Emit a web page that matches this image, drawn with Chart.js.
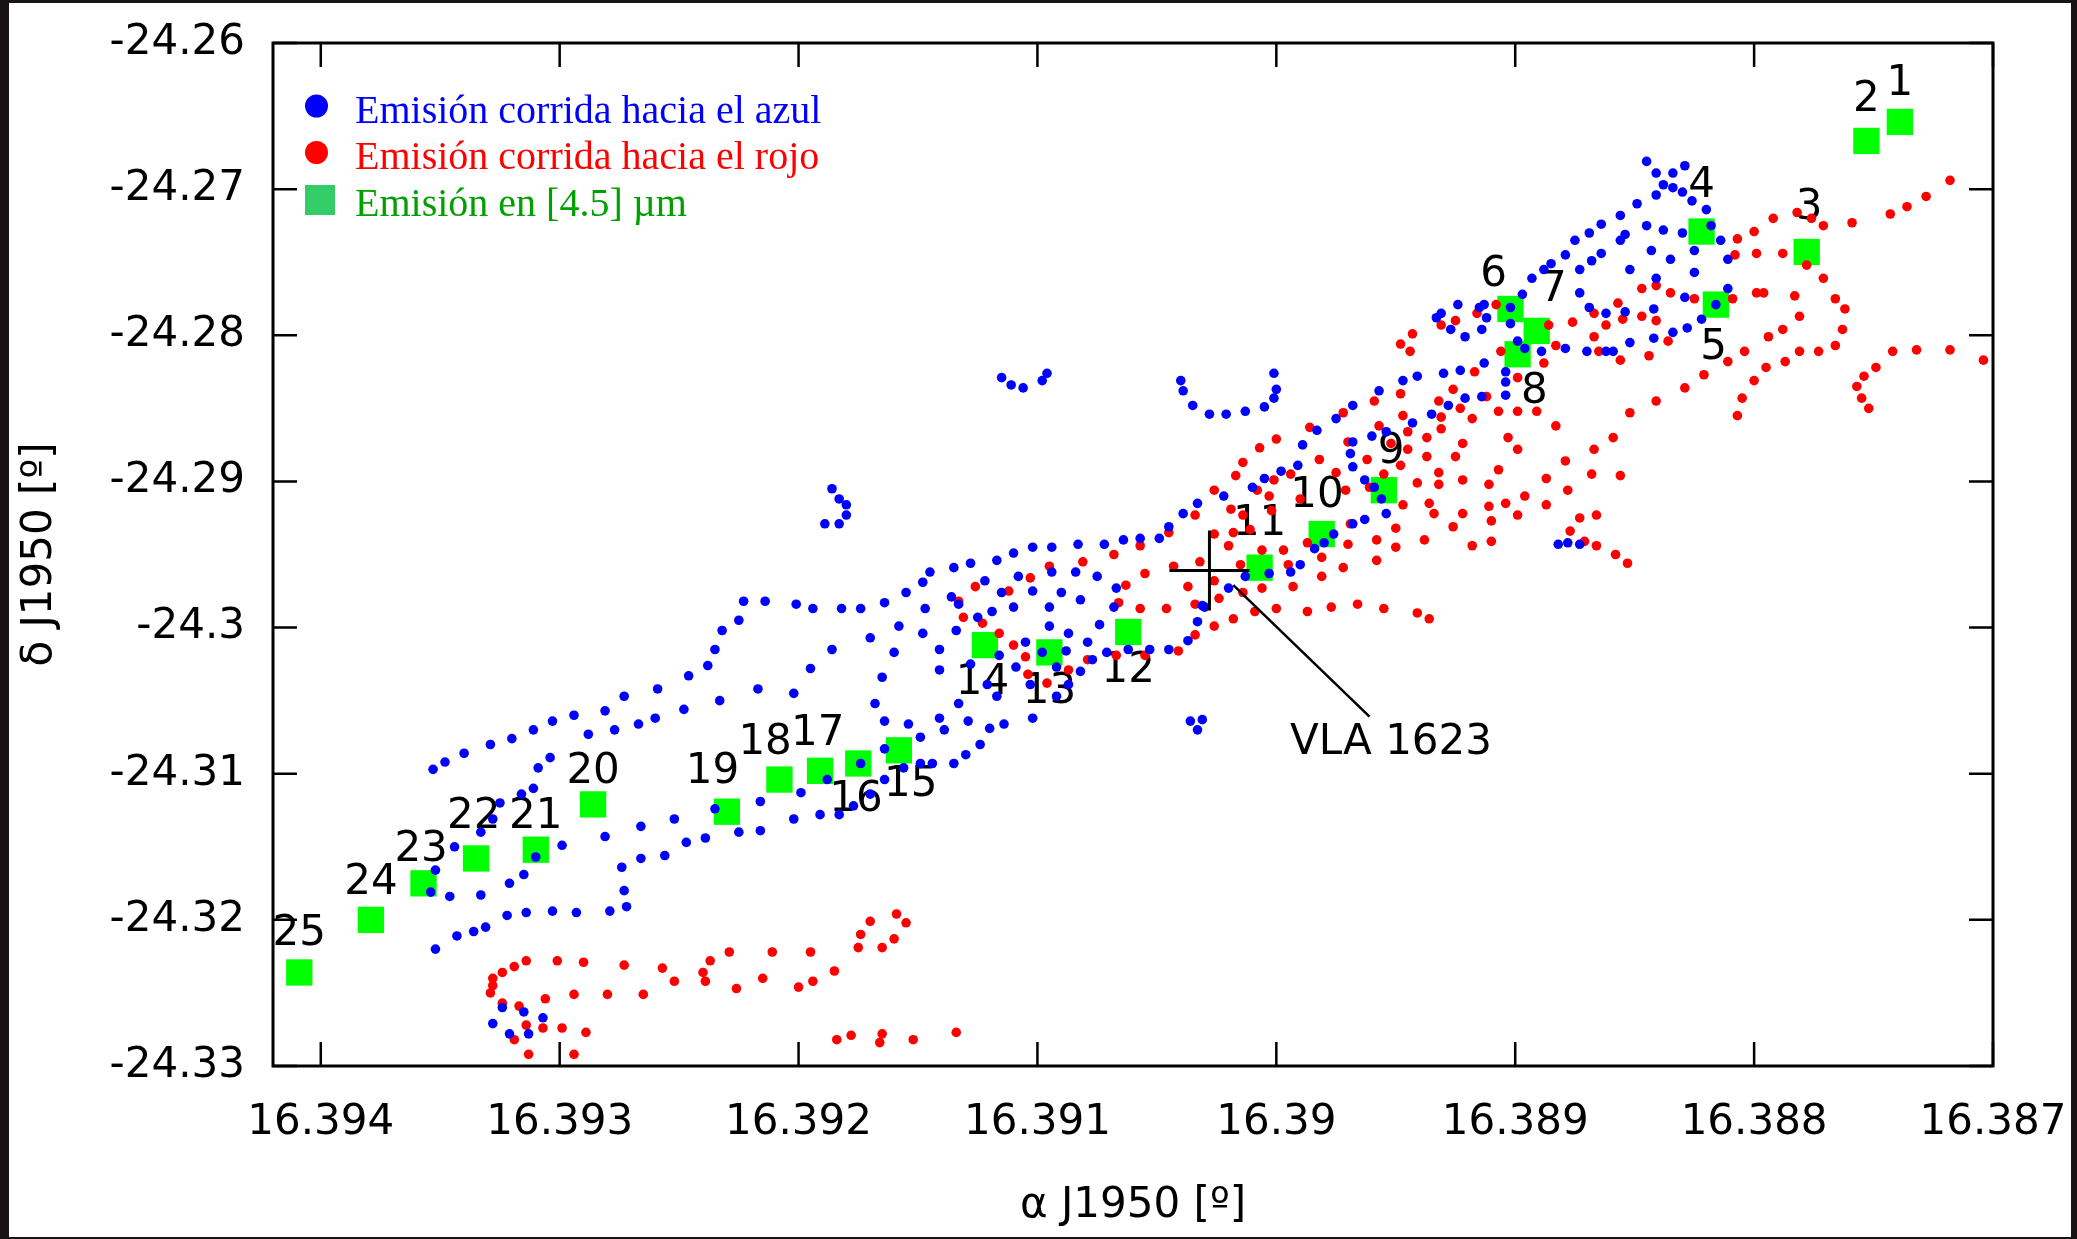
<!DOCTYPE html>
<html>
<head>
<meta charset="utf-8">
<script src="https://cdn.jsdelivr.net/npm/chart.js@4.4.1/dist/chart.umd.min.js"></script>
<style>
  html, body { margin: 0; padding: 0; background: #171214; }
  canvas { display: block; }
</style>
</head>
<body>
<canvas id="chart" width="2077" height="1239"></canvas>
<script>
// ejes (grados, J1950)
const xTicks = [16.394, 16.393, 16.392, 16.391, 16.39, 16.389, 16.388, 16.387];
const yTicks = [-24.26, -24.27, -24.28, -24.29, -24.3, -24.31, -24.32, -24.33];

// emisión corrida hacia el azul [ra, dec]
const blueShifted = [
  [16.38845,-24.2681],[16.38841,-24.2689],[16.38834,-24.2689],[16.38829,-24.2684],[16.38838,-24.2697],
  [16.38834,-24.2699],[16.38830,-24.2702],[16.38841,-24.2704],[16.38826,-24.2708],[16.38820,-24.2714],
  [16.38849,-24.2710],[16.38856,-24.2718],[16.38864,-24.2724],[16.38869,-24.2730],[16.38875,-24.2735],
  [16.38879,-24.2745],[16.38885,-24.2751],[16.38888,-24.2755],[16.38893,-24.2761],[16.38897,-24.2772],
  [16.38913,-24.2779],[16.38915,-24.2781],[16.38924,-24.2779],[16.38912,-24.2788],[16.38914,-24.2796],
  [16.38927,-24.2796],[16.38921,-24.2801],[16.38902,-24.2781],[16.38902,-24.2792],[16.38899,-24.2804],
  [16.38896,-24.2809],[16.38889,-24.2811],[16.38879,-24.2809],[16.38870,-24.2811],[16.38862,-24.2811],
  [16.38859,-24.2811],[16.38852,-24.2805],[16.38842,-24.2802],[16.38834,-24.2798],[16.38828,-24.2795],
  [16.38822,-24.2789],[16.38811,-24.2768],[16.38816,-24.2779],[16.38829,-24.2774],[16.38842,-24.2782],
  [16.38854,-24.2784],[16.38862,-24.2785],[16.38869,-24.2781],[16.38873,-24.2771],[16.38873,-24.2755],
  [16.38868,-24.2749],[16.38864,-24.2744],[16.38856,-24.2735],[16.38854,-24.2731],[16.38845,-24.2725],
  [16.38838,-24.2728],[16.38830,-24.2730],[16.38818,-24.2725],[16.38814,-24.2735],[16.38811,-24.2748],
  [16.38825,-24.2742],[16.38825,-24.2757],[16.38835,-24.2748],[16.38843,-24.2742],[16.38852,-24.2755],
  [16.38841,-24.2761],[16.38913,-24.2819],[16.38923,-24.2824],[16.38904,-24.2825],[16.38904,-24.2832],
  [16.38904,-24.2841],[16.38914,-24.2842],[16.38921,-24.2843],[16.38928,-24.2848],[16.38930,-24.2826],
  [16.38941,-24.2828],[16.38947,-24.2831],[16.38957,-24.2838],[16.38968,-24.2848],[16.38975,-24.2857],
  [16.38983,-24.2865],[16.38989,-24.2875],[16.38991,-24.2889],[16.38998,-24.2893],[16.39005,-24.2898],
  [16.39010,-24.2904],[16.39022,-24.2910],[16.39033,-24.2915],[16.39039,-24.2922],[16.39045,-24.2931],
  [16.39049,-24.2939],[16.38935,-24.2854],[16.38943,-24.2860],[16.38954,-24.2866],[16.38960,-24.2869],
  [16.38968,-24.2873],[16.38969,-24.2881],[16.38968,-24.2890],[16.38963,-24.2899],[16.38959,-24.2904],
  [16.38956,-24.2912],[16.38954,-24.2922],[16.38963,-24.2926],[16.38968,-24.2929],[16.38976,-24.2936],
  [16.38980,-24.2942],[16.38984,-24.2946],[16.38990,-24.2957],[16.38994,-24.2962],[16.39003,-24.2963],
  [16.39013,-24.2965],[16.39020,-24.2973],[16.39031,-24.2985],[16.38882,-24.2943],[16.38878,-24.2942],
  [16.38873,-24.2943],[16.39040,-24.2831],[16.39039,-24.2838],[16.39035,-24.2848],[16.39028,-24.2854],
  [16.39021,-24.2854],[16.39013,-24.2852],[16.39005,-24.2849],[16.39001,-24.2843],[16.39000,-24.2837],
  [16.39001,-24.2826],[16.39115,-24.2829],[16.39111,-24.2834],[16.39106,-24.2836],[16.39098,-24.2831],
  [16.39096,-24.2826],[16.39186,-24.2905],[16.39183,-24.2912],[16.39180,-24.2916],[16.39180,-24.2923],
  [16.39183,-24.2929],[16.39189,-24.2929],[16.39057,-24.2939],[16.39064,-24.2940],[16.39072,-24.2943],
  [16.39083,-24.2943],[16.39094,-24.2945],[16.39102,-24.2945],[16.39110,-24.2949],[16.39117,-24.2954],
  [16.39128,-24.2956],[16.39135,-24.2959],[16.39145,-24.2962],[16.39148,-24.2969],[16.39155,-24.2976],
  [16.39164,-24.2983],[16.39122,-24.2968],[16.39115,-24.2976],[16.39108,-24.2965],[16.39102,-24.2975],
  [16.39094,-24.2962],[16.39084,-24.2962],[16.39075,-24.2965],[16.39067,-24.2973],[16.39068,-24.2986],
  [16.39074,-24.2998],[16.39082,-24.2981],[16.39090,-24.2976],[16.39095,-24.2986],[16.39110,-24.2986],
  [16.39119,-24.2989],[16.39125,-24.2993],[16.39136,-24.2979],[16.39133,-24.2984],[16.39147,-24.2987],
  [16.39158,-24.2999],[16.39148,-24.3004],[16.39134,-24.3002],[16.39141,-24.3015],[16.39160,-24.3017],
  [16.39165,-24.3034],[16.39141,-24.3029],[16.39128,-24.3025],[16.39116,-24.3019],[16.39109,-24.3027],
  [16.39105,-24.3010],[16.39095,-24.2999],[16.39087,-24.3004],[16.39079,-24.3010],[16.39088,-24.3016],
  [16.39098,-24.3017],[16.39092,-24.3027],[16.39082,-24.3030],[16.39077,-24.3022],[16.39071,-24.3017],
  [16.39062,-24.3015],[16.39053,-24.3015],[16.39045,-24.3015],[16.39037,-24.3009],[16.39033,-24.2996],
  [16.39030,-24.2986],[16.39117,-24.3047],[16.39121,-24.3039],[16.39133,-24.3052],[16.39141,-24.3062],
  [16.39139,-24.3070],[16.39129,-24.3064],[16.39120,-24.3069],[16.39114,-24.3066],[16.39102,-24.3062],
  [16.39103,-24.3039],[16.39092,-24.3047],[16.39087,-24.3039],[16.39149,-24.3075],[16.39154,-24.3066],
  [16.39164,-24.3064],[16.39164,-24.3083],[16.39156,-24.3096],[16.39149,-24.3093],[16.39144,-24.3093],
  [16.39135,-24.3093],[16.39130,-24.3087],[16.39124,-24.3080],[16.39164,-24.3104],[16.39036,-24.3064],
  [16.39031,-24.3063],[16.39033,-24.3070],[16.39223,-24.2982],[16.39214,-24.2982],[16.39201,-24.2984],
  [16.39194,-24.2987],[16.39182,-24.2987],[16.39174,-24.2987],[16.39225,-24.2995],[16.39232,-24.3002],
  [16.39235,-24.3015],[16.39238,-24.3026],[16.39246,-24.3033],[16.39259,-24.3042],[16.39273,-24.3047],
  [16.39281,-24.3057],[16.39294,-24.3060],[16.39303,-24.3064],[16.39311,-24.3070],[16.39320,-24.3076],
  [16.39329,-24.3080],[16.39340,-24.3086],[16.39348,-24.3092],[16.39353,-24.3097],[16.39186,-24.3015],
  [16.39195,-24.3028],[16.39202,-24.3045],[16.39217,-24.3042],[16.39233,-24.3050],[16.39248,-24.3056],
  [16.39260,-24.3062],[16.39267,-24.3066],[16.39277,-24.3070],[16.39288,-24.3073],[16.39170,-24.3007],
  [16.39168,-24.3052],[16.39170,-24.3114],[16.39174,-24.3093],[16.39177,-24.3122],[16.39183,-24.3128],
  [16.39191,-24.3128],[16.39202,-24.3131],[16.39188,-24.3104],[16.39199,-24.3113],[16.39216,-24.3119],
  [16.39216,-24.3139],[16.39225,-24.3140],[16.39239,-24.3144],[16.39247,-24.3147],[16.39256,-24.3156],
  [16.39266,-24.3158],[16.39274,-24.3164],[16.39273,-24.3180],[16.39235,-24.3124],[16.39252,-24.3131],
  [16.39266,-24.3136],[16.39281,-24.3143],[16.39299,-24.3149],[16.39304,-24.3089],[16.39309,-24.3096],
  [16.39311,-24.3110],[16.39316,-24.3114],[16.39325,-24.3120],[16.39328,-24.3131],[16.39333,-24.3140],
  [16.39344,-24.3150],[16.39352,-24.3166],[16.39354,-24.3181],[16.39346,-24.3184],[16.39333,-24.3183],
  [16.39321,-24.3175],[16.39315,-24.3169],[16.39310,-24.3157],[16.39272,-24.3191],[16.39279,-24.3194],
  [16.39293,-24.3195],[16.39303,-24.3194],[16.39314,-24.3195],[16.39322,-24.3197],[16.39331,-24.3205],
  [16.39336,-24.3208],[16.39343,-24.3211],[16.39352,-24.3220],[16.39324,-24.3260],[16.39315,-24.3263],
  [16.39307,-24.3267],[16.39328,-24.3271],[16.39321,-24.3278],[16.39313,-24.3278],[16.38931,-24.2785],
  [16.38933,-24.2788]
];

// emisión corrida hacia el rojo [ra, dec]
const redShifted = [
  [16.38718,-24.2694],[16.38728,-24.2705],[16.38736,-24.2712],[16.38743,-24.2717],[16.38759,-24.2723],
  [16.38771,-24.2725],[16.38776,-24.2720],[16.38782,-24.2716],[16.38792,-24.2720],[16.38800,-24.2729],
  [16.38807,-24.2734],[16.38808,-24.2745],[16.38799,-24.2744],[16.38788,-24.2744],[16.38778,-24.2752],
  [16.38771,-24.2761],[16.38766,-24.2775],[16.38762,-24.2782],[16.38763,-24.2796],[16.38766,-24.2807],
  [16.38773,-24.2811],[16.38781,-24.2811],[16.38787,-24.2818],[16.38795,-24.2822],[16.38800,-24.2831],
  [16.38805,-24.2843],[16.38807,-24.2855],[16.38781,-24.2787],[16.38788,-24.2796],[16.38794,-24.2801],
  [16.38783,-24.2773],[16.38796,-24.2771],[16.38799,-24.2771],[16.38809,-24.2775],[16.38825,-24.2775],
  [16.38835,-24.2771],[16.38841,-24.2766],[16.38847,-24.2768],[16.38857,-24.2778],[16.38867,-24.2785],
  [16.38862,-24.2793],[16.38855,-24.2789],[16.38847,-24.2787],[16.38841,-24.2790],[16.38876,-24.2791],
  [16.38867,-24.2801],[16.38865,-24.2811],[16.38856,-24.2817],[16.38844,-24.2814],[16.38836,-24.2804],
  [16.38804,-24.2811],[16.38811,-24.2818],[16.38821,-24.2827],[16.38829,-24.2836],[16.38841,-24.2845],
  [16.38852,-24.2853],[16.38859,-24.2870],[16.38867,-24.2878],[16.38883,-24.2807],[16.38888,-24.2819],
  [16.38886,-24.2793],[16.38883,-24.2862],[16.38891,-24.2852],[16.38899,-24.2852],[16.38899,-24.2829],
  [16.38907,-24.2852],[16.38903,-24.2870],[16.38899,-24.2878],[16.38906,-24.2811],[16.38908,-24.2779],
  [16.38916,-24.2785],[16.38925,-24.2790],[16.38917,-24.2825],[16.38926,-24.2837],[16.38923,-24.2850],
  [16.38912,-24.2842],[16.38918,-24.2857],[16.38922,-24.2874],[16.38925,-24.2883],[16.38742,-24.2811],
  [16.38732,-24.2810],[16.38718,-24.2810],[16.38749,-24.2822],[16.38754,-24.2828],[16.38757,-24.2835],
  [16.38755,-24.2843],[16.38752,-24.2850],[16.38879,-24.2886],[16.38704,-24.2817],[16.38943,-24.2799],
  [16.38948,-24.2806],[16.38944,-24.2811],[16.38931,-24.2793],[16.38937,-24.2870],[16.38931,-24.2864],
  [16.38931,-24.2856],[16.38932,-24.2845],[16.38937,-24.2883],[16.38948,-24.2889],[16.38945,-24.2878],
  [16.38945,-24.2866],[16.38947,-24.2855],[16.38948,-24.2840],[16.38959,-24.2845],[16.38957,-24.2862],
  [16.38952,-24.2874],[16.38955,-24.2895],[16.38962,-24.2885],[16.38970,-24.2873],[16.38972,-24.2853],
  [16.38986,-24.2863],[16.39000,-24.2871],[16.39007,-24.2877],[16.39014,-24.2887],[16.39017,-24.2896],
  [16.39026,-24.2906],[16.38982,-24.2885],[16.38994,-24.2895],[16.39001,-24.2899],[16.39008,-24.2906],
  [16.39003,-24.2910],[16.38975,-24.2894],[16.38971,-24.2906],[16.38961,-24.2904],[16.38990,-24.2912],
  [16.38941,-24.2901],[16.38932,-24.2894],[16.38932,-24.2902],[16.38922,-24.2899],[16.38868,-24.2895],
  [16.38856,-24.2896],[16.38878,-24.2906],[16.38887,-24.2898],[16.38887,-24.2916],[16.38873,-24.2925],
  [16.38866,-24.2923],[16.38877,-24.2934],[16.38871,-24.2941],[16.38866,-24.2944],[16.38858,-24.2950],
  [16.38853,-24.2956],[16.38907,-24.2892],[16.38911,-24.2902],[16.38896,-24.2910],[16.38904,-24.2915],
  [16.38911,-24.2917],[16.38899,-24.2923],[16.38910,-24.2927],[16.38910,-24.2941],[16.38918,-24.2944],
  [16.38936,-24.2915],[16.38934,-24.2922],[16.38922,-24.2922],[16.38926,-24.2931],[16.38938,-24.2940],
  [16.38947,-24.2916],[16.38950,-24.2932],[16.38950,-24.2945],[16.38941,-24.2990],[16.38936,-24.2994],
  [16.39034,-24.2923],[16.39045,-24.2935],[16.39057,-24.2944],[16.39068,-24.2950],[16.39081,-24.2955],
  [16.39095,-24.2958],[16.39103,-24.2966],[16.39112,-24.2975],[16.39126,-24.2972],[16.39133,-24.2982],
  [16.39131,-24.2993],[16.39123,-24.2997],[16.39116,-24.3004],[16.39110,-24.3012],[16.39105,-24.3020],
  [16.39104,-24.3032],[16.39096,-24.3038],[16.39087,-24.3029],[16.39079,-24.3022],[16.39067,-24.3019],
  [16.39055,-24.3019],[16.39041,-24.3016],[16.39034,-24.3005],[16.39026,-24.2999],[16.39018,-24.2994],
  [16.39009,-24.2989],[16.39000,-24.2987],[16.38987,-24.2989],[16.38977,-24.2986],[16.38966,-24.2984],
  [16.38955,-24.2987],[16.39063,-24.2971],[16.39066,-24.2983],[16.39057,-24.2987],[16.39046,-24.2987],
  [16.39055,-24.2963],[16.39043,-24.2958],[16.39037,-24.2972],[16.39034,-24.2984],[16.39032,-24.2955],
  [16.39026,-24.2968],[16.39026,-24.2936],[16.39020,-24.2944],[16.39018,-24.2935],[16.39015,-24.2957],
  [16.39024,-24.2980],[16.39014,-24.2976],[16.39006,-24.2947],[16.39006,-24.2973],[16.38997,-24.2947],
  [16.38995,-24.2957],[16.38993,-24.2972],[16.39019,-24.2919],[16.39014,-24.2923],[16.39002,-24.2920],
  [16.38987,-24.2942],[16.38981,-24.2952],[16.38981,-24.2965],[16.38972,-24.2959],[16.38970,-24.2943],
  [16.38958,-24.2940],[16.38958,-24.2954],[16.38969,-24.2929],[16.39011,-24.2933],[16.39319,-24.3282],
  [16.39313,-24.3292],[16.39294,-24.3292],[16.39289,-24.3277],[16.39299,-24.3274],[16.39307,-24.3274],
  [16.39314,-24.3272],[16.39317,-24.3259],[16.39324,-24.3257],[16.39329,-24.3250],[16.39328,-24.3245],
  [16.39328,-24.3240],[16.39324,-24.3236],[16.39319,-24.3232],[16.39314,-24.3228],[16.39301,-24.3228],
  [16.39290,-24.3229],[16.39273,-24.3231],[16.39257,-24.3233],[16.39240,-24.3236],[16.39237,-24.3228],
  [16.39229,-24.3222],[16.39211,-24.3222],[16.39195,-24.3222],[16.39185,-24.3235],[16.39194,-24.3242],
  [16.39200,-24.3246],[16.39215,-24.3240],[16.39226,-24.3247],[16.39239,-24.3242],[16.39252,-24.3242],
  [16.39265,-24.3251],[16.39280,-24.3251],[16.39294,-24.3251],[16.39306,-24.3254],[16.39175,-24.3219],
  [16.39165,-24.3219],[16.39174,-24.3210],[16.39170,-24.3201],[16.39160,-24.3213],[16.39159,-24.3196],
  [16.39155,-24.3202],[16.39184,-24.3282],[16.39178,-24.3279],[16.39165,-24.3278],[16.39166,-24.3284],
  [16.39152,-24.3282],[16.39134,-24.3277]
];

// emisión en [4.5] µm, nudos 1..25
const knotNames = ['1','2','3','4','5','6','7','8','9','10','11','12','13','14','15','16','17','18','19','20','21','22','23','24','25'];
const knotRA = [16.38739,16.38753,16.38778,16.38822,16.38816,16.38902,16.38891,16.38899,16.38955,16.38981,
  16.39007,16.39062,16.39095,16.39122,16.39158,16.39175,16.39191,16.39208,16.39230,16.39286,
  16.39310,16.39335,16.39357,16.39379,16.39409];
const knotDec = [-24.2654,-24.2667,-24.2743,-24.2729,-24.2779,-24.2782,-24.2797,-24.2813,-24.2906,-24.2936,
  -24.2959,-24.3003,-24.3017,-24.3012,-24.3084,-24.3093,-24.3098,-24.3104,-24.3126,-24.3121,
  -24.3152,-24.3158,-24.3175,-24.3200,-24.3236];
// donde va el número de cada nudo
const knotLabelRA = [16.38739,16.38753,16.38777,16.38822,16.38817,16.38909,16.38884,16.38892,16.38952,16.38983,
  16.39007,16.39062,16.39095,16.39123,16.39153,16.39176,16.39192,16.39214,16.39236,16.39286,
  16.39310,16.39336,16.39358,16.39379,16.39409];
const knotLabelDec = [-24.2628,-24.2639,-24.2713,-24.2698,-24.2809,-24.2759,-24.2769,-24.2839,-24.2880,-24.2910,
  -24.2929,-24.3030,-24.3044,-24.3038,-24.3108,-24.3118,-24.3073,-24.3079,-24.3099,-24.3099,
  -24.3130,-24.3130,-24.3152,-24.3175,-24.3210];

// fuente VLA 1623 y su flecha
const vlaName = 'VLA 1623';
const vlaPos = [16.39028, -24.2961];
const vlaPointer = [[16.39018, -24.2971], [16.38961, -24.3061]];
const vlaLabelPos = [16.38952, -24.3079];

const legendItems = [
  { text: 'Emisión corrida hacia el azul', color: '#0000ff', mark: 'circle' },
  { text: 'Emisión corrida hacia el rojo', color: '#ff0000', mark: 'circle' },
  { text: 'Emisión en [4.5] µm', color: '#00a000', mark: 'square', markColor: '#33cc66' }
];

const toPoints = arr => arr.map(p => ({ x: p[0], y: p[1] }));

// fondo, marco y ticks hacia dentro (estilo gnuplot)
const framePlugin = {
  id: 'framePlugin',
  beforeDraw(chart) {
    const ctx = chart.ctx;
    ctx.save();
    ctx.fillStyle = '#171214';
    ctx.fillRect(0, 0, chart.width, chart.height);
    ctx.fillStyle = '#ffffff';
    ctx.fillRect(9, 3, 2062, 1234);
    ctx.restore();
  },
  beforeDatasetsDraw(chart) {
    const { ctx, chartArea: a, scales: { x, y } } = chart;
    ctx.save();
    ctx.strokeStyle = '#000';
    ctx.lineWidth = 2.5;
    ctx.beginPath();
    x.ticks.forEach(t => {
      const px = x.getPixelForValue(t.value);
      ctx.moveTo(px, a.bottom); ctx.lineTo(px, a.bottom - 24);
      ctx.moveTo(px, a.top); ctx.lineTo(px, a.top + 24);
    });
    y.ticks.forEach(t => {
      const py = y.getPixelForValue(t.value);
      ctx.moveTo(a.left, py); ctx.lineTo(a.left + 24, py);
      ctx.moveTo(a.right, py); ctx.lineTo(a.right - 24, py);
    });
    ctx.stroke();
    ctx.lineWidth = 3;
    ctx.strokeRect(a.left, a.top, a.right - a.left, a.bottom - a.top);

    // números de los nudos (detrás de los puntos)
    ctx.fillStyle = '#000';
    ctx.font = '42px "DejaVu Sans"';
    ctx.textAlign = 'center';
    ctx.textBaseline = 'middle';
    knotNames.forEach((t, i) => {
      ctx.fillText(t, x.getPixelForValue(knotLabelRA[i]), y.getPixelForValue(knotLabelDec[i]));
    });
    ctx.fillText(vlaName, x.getPixelForValue(vlaLabelPos[0]), y.getPixelForValue(vlaLabelPos[1]));
    ctx.restore();
  },
  afterDraw(chart) {
    const ctx = chart.ctx;
    ctx.save();
    ctx.font = '40px "Liberation Serif"';
    ctx.textBaseline = 'alphabetic';
    ctx.textAlign = 'left';
    legendItems.forEach((it, i) => {
      const cy = 106 + i * 46.5;
      if (it.mark === 'circle') {
        ctx.fillStyle = it.color;
        ctx.beginPath();
        ctx.ellipse(316.5, cy, 11.5, 11.5, 0, 0, Math.PI * 2);
        ctx.fill();
      } else {
        ctx.fillStyle = it.markColor;
        ctx.fillRect(305, cy - 14, 30, 30);
      }
      ctx.fillStyle = it.color;
      ctx.fillText(it.text, 355, cy + 16.5);
    });
    ctx.restore();
  }
};

Chart.defaults.font.family = 'DejaVu Sans';
Chart.defaults.color = '#000';

new Chart(document.getElementById('chart'), {
  type: 'scatter',
  data: {
    datasets: [
      {
        label: 'VLA 1623',
        data: toPoints([vlaPos]),
        pointStyle: 'cross',
        pointRadius: 40,
        borderColor: '#000',
        borderWidth: 3,
        order: 0
      },
      {
        label: 'flecha',
        data: toPoints(vlaPointer),
        showLine: true,
        borderColor: '#000',
        borderWidth: 2.5,
        pointRadius: 0,
        order: 0
      },
      {
        label: 'Emisión corrida hacia el azul',
        data: toPoints(blueShifted),
        pointStyle: 'circle',
        pointRadius: 4.8,
        backgroundColor: '#0000ff',
        borderWidth: 0,
        order: 1
      },
      {
        label: 'Emisión corrida hacia el rojo',
        data: toPoints(redShifted),
        pointStyle: 'circle',
        pointRadius: 4.8,
        backgroundColor: '#ff0000',
        borderWidth: 0,
        order: 2
      },
      {
        label: 'Emisión en [4.5] µm',
        data: knotRA.map((ra, i) => ({ x: ra, y: knotDec[i] })),
        pointStyle: 'rect',
        pointRadius: 18.6,
        backgroundColor: '#00ff00',
        borderWidth: 0,
        order: 3
      }
    ]
  },
  options: {
    responsive: false,
    animation: false,
    devicePixelRatio: 1,
    events: [],
    layout: { padding: { left: 0, right: 84, top: 42, bottom: 0 } },
    plugins: {
      legend: { display: false },
      tooltip: { enabled: false }
    },
    scales: {
      x: {
        type: 'linear',
        position: 'bottom',
        reverse: true,
        min: 16.387,
        max: 16.3942,
        afterBuildTicks: s => { s.ticks = xTicks.map(v => ({ value: v })); },
        afterFit: s => { s.height = 173; s.paddingLeft = 0; s.paddingRight = 0; },
        grid: { display: false, drawTicks: false },
        border: { display: false },
        ticks: {
          padding: 32,
          autoSkip: false,
          maxRotation: 0,
          color: '#000',
          font: { family: 'DejaVu Sans', size: 42 },
          callback: v => String(parseFloat(Number(v).toFixed(3)))
        },
        title: {
          display: true,
          text: 'α J1950 [º]',
          color: '#000',
          font: { family: 'DejaVu Sans', size: 42 },
          padding: { top: 0, bottom: 8 }
        }
      },
      y: {
        type: 'linear',
        min: -24.33,
        max: -24.26,
        afterBuildTicks: s => { s.ticks = yTicks.map(v => ({ value: v })); },
        afterFit: s => { s.width = 273; s.paddingTop = 0; s.paddingBottom = 0; },
        grid: { display: false, drawTicks: false },
        border: { display: false },
        ticks: {
          padding: 28,
          autoSkip: false,
          color: '#000',
          font: { family: 'DejaVu Sans', size: 42 },
          callback: v => String(parseFloat(Number(v).toFixed(2)))
        },
        title: {
          display: true,
          text: 'δ J1950 [º]',
          color: '#000',
          font: { family: 'DejaVu Sans', size: 42 },
          padding: { top: 15, bottom: 0 }
        }
      }
    }
  },
  plugins: [framePlugin]
});
</script>
</body>
</html>
